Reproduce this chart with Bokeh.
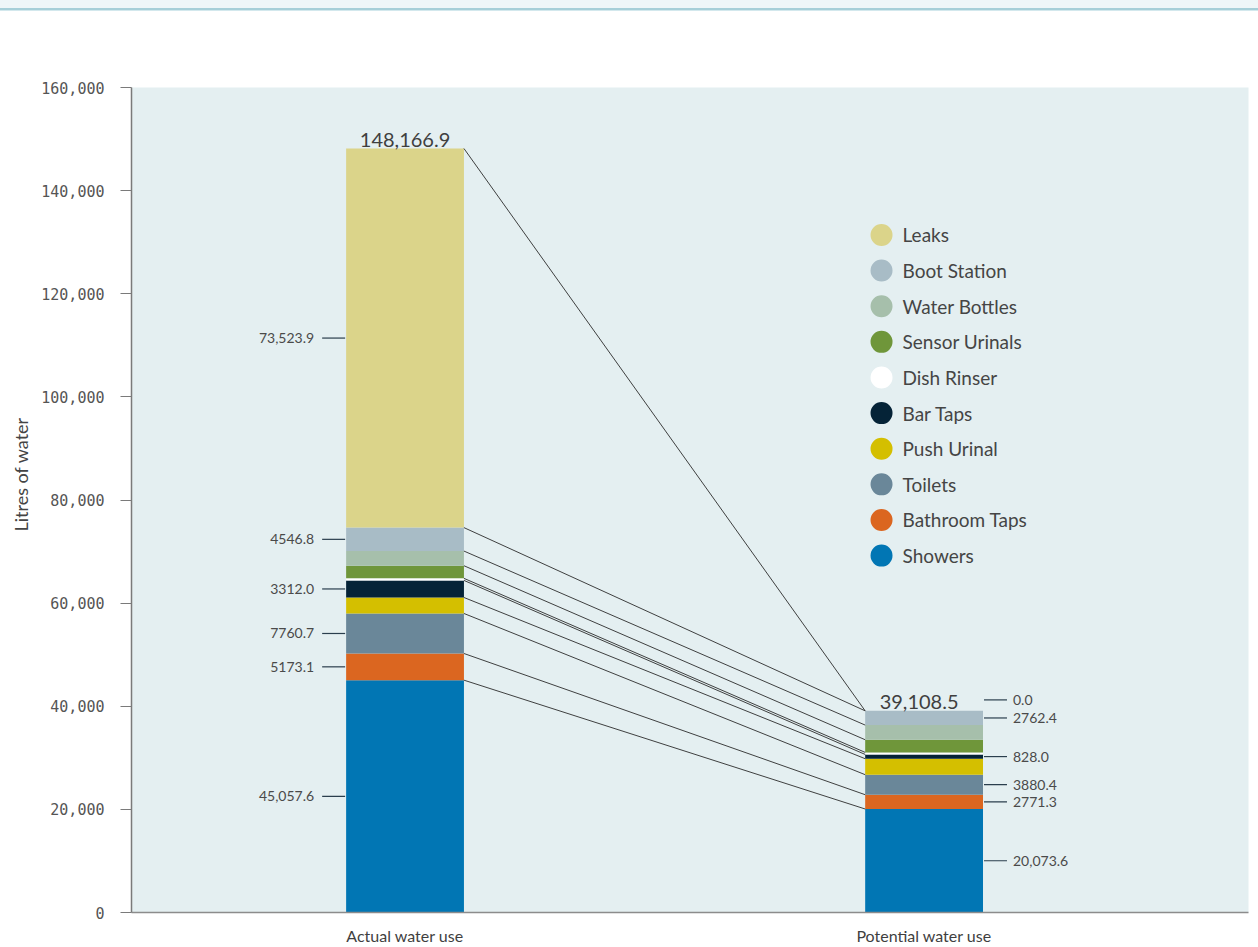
import numpy as np
from bokeh.plotting import figure
from bokeh.models import (Range1d, FixedTicker, NumeralTickFormatter, ColumnDataSource,
                          Div, Title)
from bokeh.layouts import column
from bokeh.embed import file_html
from bokeh.resources import INLINE
from bokeh.core.properties import value

# ---- data -------------------------------------------------------------
scenarios = ["Actual water use", "Potential water use"]
uses = ["Showers", "Bathroom Taps", "Toilets", "Push Urinal", "Bar Taps",
        "Dish Rinser", "Sensor Urinals", "Water Bottles", "Boot Station", "Leaks"]
actual_litres = [45057.6, 5173.1, 7760.7, 3100.0, 3312.0,
                 400.0, 2450.0, 2842.8, 4546.8, 73523.9]
potential_litres = [20073.6, 2771.3, 3880.4, 3100.0, 828.0,
                    400.0, 2450.0, 2842.8, 2762.4, 0.0]
use_colors = ["#0176b4", "#db6620", "#6a8799", "#d4bf00", "#052337",
              "#ffffff", "#6f963a", "#a6bfab", "#a8bcc6", "#dbd48a"]
labelled_uses = ["Showers", "Bathroom Taps", "Toilets", "Bar Taps",
                 "Boot Station", "Leaks"]
y_ticks = [0, 20000, 40000, 60000, 80000, 100000, 120000, 140000, 160000]

# ---- styling ----------------------------------------------------------
TEXT_FONT = "Lato"
AXIS_FONT = "DejaVu Sans Mono"
BAR_W = 0.227
PX = 1.0 / 519.5            # one screen pixel in x data units
YPX = 160000 / 829.0        # one screen pixel in y data units


def fmt(v):
    return f"{v:,.1f}" if v >= 10000 else f"{v:.1f}"


# thin banner across the top of the page
banner = Div(
    text="", width=1258, height=11, margin=0,
    styles={
        "background": ("linear-gradient(to bottom, #eef6f8 0px, #eef6f8 8px, "
                       "#a6cfd8 8px, #a6cfd8 10px, #d3e8ed 10px, #d3e8ed 11px)"),
        "width": "1258px", "height": "11px",
    },
)

p = figure(width=1258, height=936, x_range=Range1d(-0.527, 1.625),
           y_range=Range1d(0, 160000), output_backend="svg", toolbar_location=None,
           min_border_left=130, min_border_right=10, min_border_top=76,
           min_border_bottom=31, background_fill_color="#e4eff1",
           border_fill_color="white", outline_line_color=None)
p.xgrid.grid_line_color = None
p.ygrid.grid_line_color = None

# ---- stacked bars -----------------------------------------------------
series = [actual_litres, potential_litres]
tops_all, bottoms_all = [], []
for i, vals in enumerate(series):
    v = np.array(vals)
    tops = np.cumsum(v)
    bottoms = tops - v
    tops_all.append(tops)
    bottoms_all.append(bottoms)
    src = ColumnDataSource(dict(x=[i] * len(uses), bottom=bottoms, top=tops,
                                color=use_colors, use=uses))
    p.vbar(x="x", width=BAR_W, bottom="bottom", top="top", fill_color="color",
           line_color=None, source=src)

# ---- connectors between the two stacks --------------------------------
p.segment(x0=[BAR_W / 2] * len(uses), y0=tops_all[0],
          x1=[1 - BAR_W / 2] * len(uses), y1=tops_all[1],
          line_color="#2b2b2b", line_width=0.9)

# ---- totals above the bars --------------------------------------------
totals = [float(np.sum(s)) for s in series]
p.text(x=[0, 1], y=totals, text=[fmt(t) for t in totals],
       text_font=value(TEXT_FONT), text_font_size="20px", text_color="#3f3f3f",
       text_align="center", text_baseline="bottom", y_offset=-2, x_offset=[0, -5])

# ---- segment value labels ---------------------------------------------
for i, vals in enumerate(series):
    ys, txt = [], []
    for name, v, b, t in zip(uses, vals, bottoms_all[i], tops_all[i]):
        if name not in labelled_uses:
            continue
        y = (b + t) / 2 if v > 0 else t + 11 * YPX
        ys.append(y)
        txt.append(fmt(v))
    if i == 0:
        edge = -BAR_W / 2
        p.segment(x0=[edge - 24 * PX] * len(ys), y0=ys, x1=[edge - 1 * PX] * len(ys),
                  y1=ys, line_color="#2a3e4d", line_width=1.2)
        p.text(x=[edge] * len(ys), y=ys, text=txt, x_offset=-32,
               text_font=value(TEXT_FONT), text_font_size="14px", text_color="#4a4a4a",
               text_align="right", text_baseline="middle")
    else:
        edge = 1 + BAR_W / 2
        p.segment(x0=[edge + 1 * PX] * len(ys), y0=ys, x1=[edge + 24 * PX] * len(ys),
                  y1=ys, line_color="#2a3e4d", line_width=1.2)
        p.text(x=[edge] * len(ys), y=ys, text=txt, x_offset=30,
               text_font=value(TEXT_FONT), text_font_size="14px", text_color="#4a4a4a",
               text_align="left", text_baseline="middle")

# ---- legend (top entry = top of the stack) -----------------------------
leg_names = uses[::-1]
leg_colors = use_colors[::-1]
leg_y = [131400 - k * 35.8 * YPX for k in range(len(leg_names))]
p.scatter(x=[0.918] * len(leg_names), y=leg_y, marker="circle", size=22,
          fill_color=leg_colors, line_color=None)
p.text(x=[0.918] * len(leg_names), y=leg_y, text=leg_names, x_offset=21,
       text_font=value(TEXT_FONT), text_font_size="19px", text_color="#454545",
       text_align="left", text_baseline="middle")

# ---- axes --------------------------------------------------------------
xa = p.xaxis[0]
xa.ticker = FixedTicker(ticks=[0, 1])
xa.major_label_overrides = {0: scenarios[0], 1: scenarios[1]}
xa.major_tick_out = 0
xa.major_tick_in = 0
xa.minor_tick_line_color = None
xa.major_label_standoff = 13
xa.major_label_text_font = TEXT_FONT
xa.major_label_text_font_size = "16px"
xa.major_label_text_color = "#3f3f3f"
xa.axis_line_color = "#8c8c8c"
xa.axis_line_width = 1.5

ya = p.yaxis[0]
ya.ticker = FixedTicker(ticks=y_ticks)
ya.formatter = NumeralTickFormatter(format="0,0")
ya.major_tick_out = 11
ya.major_tick_in = 0
ya.minor_tick_line_color = None
ya.major_tick_line_color = "#7a7a7a"
ya.axis_line_color = "#7a7a7a"
ya.axis_line_width = 1.5
ya.major_label_standoff = 16
ya.major_label_text_font = AXIS_FONT
ya.major_label_text_font_size = "15px"
ya.major_label_text_color = "#555555"

# y-axis title, starting a fixed distance above the baseline
p.add_layout(Title(text="Litres of water", align="left", offset=381, standoff=14,
                   text_font=TEXT_FONT, text_font_style="normal",
                   text_font_size="18px", text_color="#444444"), "left")

layout = column(banner, p, spacing=0)
open("out.html", "w").write(file_html(layout, INLINE))
